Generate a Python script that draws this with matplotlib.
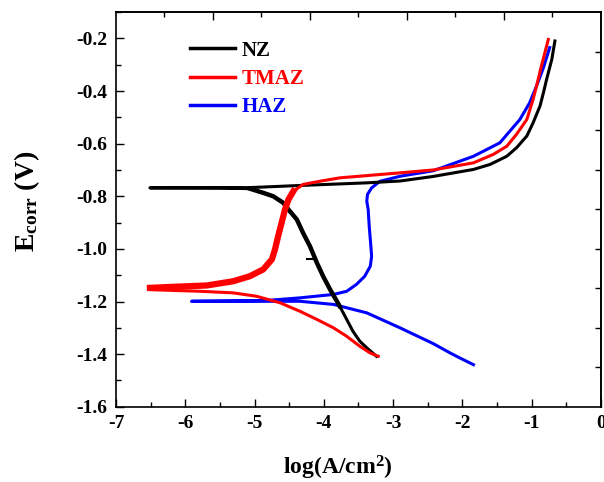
import numpy as np
import matplotlib
matplotlib.use('Agg')
import matplotlib.pyplot as plt
from matplotlib.ticker import MultipleLocator, FixedLocator

plt.rcParams['font.family'] = 'Liberation Serif'
plt.rcParams['font.weight'] = 'bold'
plt.rcParams['mathtext.fontset'] = 'custom'
plt.rcParams['mathtext.rm'] = 'Liberation Serif:bold'
plt.rcParams['mathtext.bf'] = 'Liberation Serif:bold'
plt.rcParams['mathtext.it'] = 'Liberation Serif:bold:italic'

# NZ: rama catodica (desde el final) hasta Ecorr y luego rama anodica
nz_x = [-3.24, -3.38, -3.48, -3.58, -3.67, -3.77, -3.91, -4.01, -4.10, -4.20, -4.30, -4.39, -4.49,
        -4.585, -4.73, -4.875, -5.07, -5.50, -6.51,
        -5.07, -4.345, -3.38, -2.90, -2.43, -1.84, -1.60, -1.36, -1.22, -1.07, -0.98,
        -0.88, -0.83, -0.785, -0.71, -0.665]
nz_y = [-1.408, -1.376, -1.351, -1.313, -1.268, -1.218, -1.154, -1.104, -1.053, -0.99, -0.939, -0.888, -0.857,
        -0.825, -0.80, -0.787, -0.771, -0.769, -0.768,
        -0.767, -0.759, -0.749, -0.742, -0.725, -0.698, -0.679, -0.648, -0.616, -0.571, -0.521,
        -0.457, -0.406, -0.356, -0.28, -0.21]
nz_dash_x = [-4.25, -4.13]
nz_dash_y = [-1.038, -1.038]

# TMAZ
tmaz_x = [-3.215, -3.335, -3.48, -3.67, -3.86, -4.10, -4.345, -4.63, -4.97, -5.31, -5.79, -6.51,
          -6.51, -6.17, -5.69, -5.31, -5.07, -4.875, -4.75, -4.705, -4.66, -4.61, -4.56, -4.51, -4.44,
          -4.30, -4.06, -3.77, -2.90, -2.42, -1.84, -1.555, -1.36, -1.22, -1.07, -0.98, -0.93, -0.86, -0.76]
tmaz_y = [-1.408, -1.395, -1.37, -1.332, -1.30, -1.268, -1.237, -1.205, -1.18, -1.167, -1.161, -1.155,
          -1.148, -1.144, -1.139, -1.123, -1.104, -1.078, -1.04, -1.002, -0.952, -0.901, -0.85, -0.812, -0.781,
          -0.755, -0.743, -0.73, -0.711, -0.70, -0.673, -0.641, -0.61, -0.565, -0.508, -0.432, -0.381, -0.305, -0.204]

# HAZ
haz_x = [-1.84, -2.04, -2.18, -2.42, -2.90, -3.38, -3.86, -4.345, -4.83, -5.91,
         -4.83, -4.345, -3.86, -3.67, -3.53, -3.41, -3.33, -3.31, -3.325, -3.345, -3.36, -3.38,
         -3.37, -3.31, -3.19, -2.90, -2.42, -1.84, -1.46, -1.17, -1.03, -0.93, -0.83, -0.74]
haz_y = [-1.44, -1.414, -1.395, -1.36, -1.30, -1.243, -1.211, -1.199, -1.199, -1.199,
         -1.196, -1.186, -1.173, -1.161, -1.135, -1.104, -1.066, -1.028, -0.977, -0.914, -0.85, -0.819,
         -0.793, -0.768, -0.743, -0.724, -0.703, -0.648, -0.597, -0.508, -0.445, -0.381, -0.311, -0.235]

fig = plt.figure(figsize=(6.04, 4.82), dpi=100)
ax = fig.add_axes([0.192, 0.156, 0.803, 0.819])

l_haz, = ax.plot(haz_x, haz_y, color='#0000ff', lw=2.2, zorder=2, label='HAZ')
l_nz, = ax.plot(nz_x, nz_y, color='black', lw=2.2, zorder=3, label='NZ')
ax.plot(nz_x[5:17], nz_y[5:17], color='black', lw=3.2, zorder=3)
ax.plot(nz_dash_x, nz_dash_y, color='black', lw=1.5, zorder=3)
l_tmaz, = ax.plot(tmaz_x, tmaz_y, color='#ff0000', lw=2.2, zorder=4, label='TMAZ')
ax.plot(tmaz_x[12:25], tmaz_y[12:25], color='#ff0000', lw=4.5, zorder=4)

ax.set_xlim(-7, 0)
ax.set_ylim(-1.6, -0.1)
ax.xaxis.set_major_locator(MultipleLocator(1))
ax.xaxis.set_minor_locator(MultipleLocator(0.5))
ax.yaxis.set_major_locator(FixedLocator([-1.6, -1.4, -1.2, -1.0, -0.8, -0.6, -0.4, -0.2]))
ax.yaxis.set_minor_locator(MultipleLocator(0.1))
ax.xaxis.set_major_formatter(plt.FuncFormatter(lambda v, p: '%d' % v))
ax.yaxis.set_major_formatter(plt.FuncFormatter(lambda v, p: '%.1f' % v))
ax.tick_params(which='both', direction='in', labelsize=14, pad=6)
ax.tick_params(which='major', length=6, width=1)
ax.tick_params(which='minor', length=3.5, width=1)

# ejes superior y derecho con sus propias marcas
top = ax.secondary_xaxis('top')
top.xaxis.set_major_locator(FixedLocator([-5.6, -4.2, -2.8, -1.4]))
top.xaxis.set_minor_locator(FixedLocator([-6.3, -4.9, -3.5, -2.1, -0.7]))
top.tick_params(which='both', direction='in', labeltop=False)
top.tick_params(which='major', length=6, width=1)
top.tick_params(which='minor', length=3.5, width=1)
right = ax.secondary_yaxis('right')
right.yaxis.set_major_locator(FixedLocator([-1.45, -1.3, -1.15, -1.0, -0.85, -0.7, -0.55, -0.4, -0.25]))
right.yaxis.set_minor_locator(FixedLocator([]))
right.tick_params(which='both', direction='in', labelright=False, length=4, width=1)

for s in ax.spines.values():
    s.set_linewidth(1.2)
for sec in (top, right):
    for s in sec.spines.values():
        s.set_linewidth(1.2)

ax.set_xlabel(r'log(A/cm$^{\mathbf{2}}$)', fontsize=17, fontweight='bold')
ax.xaxis.set_label_coords(0.458, -0.12)
ax.set_ylabel(r'E$_{\mathbf{corr}}$ (V)', fontsize=20, fontweight='bold')
ax.yaxis.set_label_coords(-0.152, 0.52)

leg = ax.legend(handles=[l_nz, l_tmaz, l_haz], loc='upper left', bbox_to_anchor=(0.115, 0.975),
                frameon=False, fontsize=15, handlelength=2.15, handletextpad=0.3,
                labelspacing=0.4, labelcolor='linecolor')
for line in leg.get_lines():
    line.set_linewidth(2.5)

fig.savefig('out.png', dpi=100)
